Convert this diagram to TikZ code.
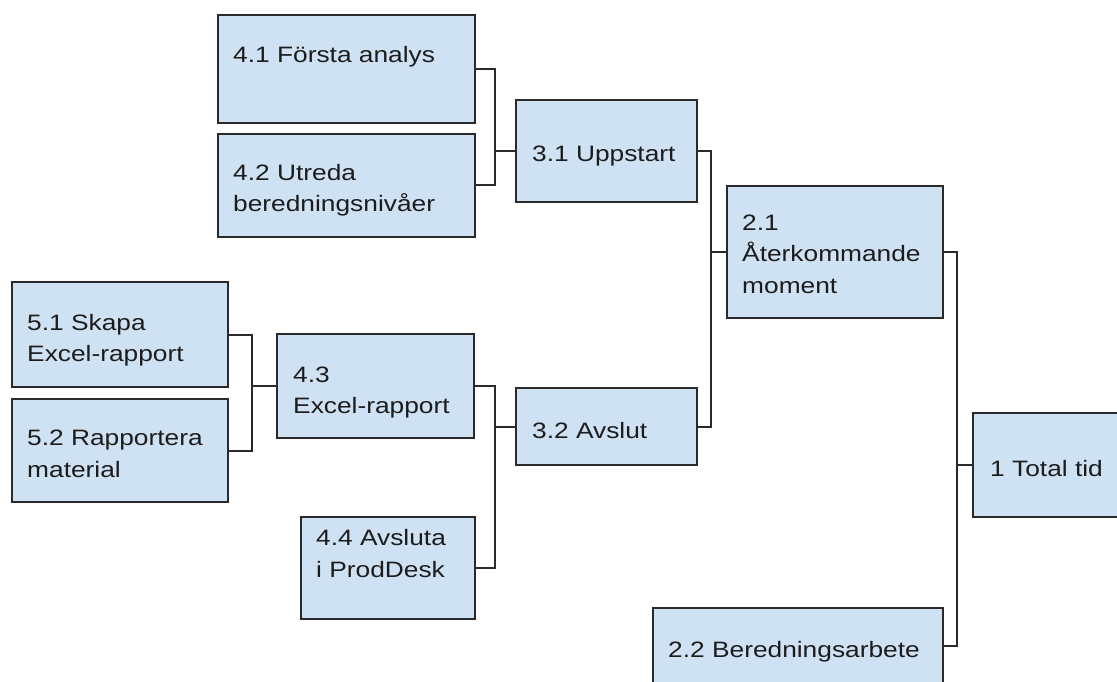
\documentclass[tikz,border=0pt]{standalone}
\usepackage{fontspec}
\usetikzlibrary{calc}
\setmainfont{Liberation Sans}[FakeStretch=1.18]
\definecolor{boxfill}{HTML}{CFE2F3}
\definecolor{boxline}{HTML}{2A2A2A}
\definecolor{txt}{HTML}{1C1C1C}
\newcommand{\twol}[2]{\vtop{\baselineskip=31.5pt\hbox{#1}\hbox{#2}}}
\newcommand{\threel}[3]{\vtop{\baselineskip=31.5pt\hbox{#1}\hbox{#2}\hbox{#3}}}
\tikzset{
  wbox/.style={draw=boxline, fill=boxfill, line width=2pt, inner sep=0pt},
  lbl/.style={anchor=base west, inner sep=0pt, text=txt, font=\fontsize{22.3}{26}\selectfont},
  conn/.style={draw=boxline, line width=2pt}
}
\begin{document}
\begin{tikzpicture}[x=1pt,y=-1pt]
\clip (0,0) rectangle (1117,682);
\fill[white] (0,0) rectangle (1117,682);
% boxes
\node[wbox, minimum width=257pt, minimum height=108pt] (b41) at (346.5,69) {};
\node[wbox, minimum width=257pt, minimum height=103pt] (b42) at (346.5,185.5) {};
\node[wbox, minimum width=181pt, minimum height=102pt] (b31) at (606.5,151) {};
\node[wbox, minimum width=216pt, minimum height=132pt] (b21) at (835,252) {};
\node[wbox, minimum width=216pt, minimum height=105pt] (b51) at (120,334.5) {};
\node[wbox, minimum width=216pt, minimum height=103pt] (b52) at (120,450.5) {};
\node[wbox, minimum width=197pt, minimum height=104pt] (b43) at (375.5,386) {};
\node[wbox, minimum width=181pt, minimum height=77pt] (b32) at (606.5,426.5) {};
\node[wbox, minimum width=174pt, minimum height=102pt] (b44) at (388,568) {};
\node[wbox, minimum width=200pt, minimum height=104pt] (b1) at (1073,465) {};
\node[wbox, minimum width=290pt, minimum height=76pt] (b22) at (798,646) {};
% labels
\node[lbl] (t41) at (233,63) {4.1 Första analys};
\node[lbl] (t42) at (233,180.5) {\twol{4.2 Utreda}{beredningsnivåer}};
\node[lbl] (t31) at (532,162) {3.1 Uppstart};
\node[lbl] (t21) at (742,230) {\threel{2.1}{Återkommande}{moment}};
\node[lbl] (t51) at (27,330) {\twol{5.1 Skapa}{Excel-rapport}};
\node[lbl] (t52) at (27,445.5) {\twol{5.2 Rapportera}{material}};
\node[lbl] (t43) at (293,382) {\twol{4.3}{Excel-rapport}};
\node[lbl] (t32) at (532,438) {3.2 Avslut};
\node[lbl] (t44) at (316,545.5) {\twol{4.4 Avsluta}{i ProdDesk}};
\node[lbl] (t1) at (990,476) {1 Total tid};
\node[lbl] (t22) at (668,657) {2.2 Beredningsarbete};
% bus coordinates
\coordinate (bus31) at ($(b31.west)+(-20.5,0)$);
\coordinate (bus21) at ($(b21.west)+(-15,0)$);
\coordinate (bus1) at ($(b1.west)+(-15,0)$);
\coordinate (bus43) at ($(b43.west)+(-24.5,0)$);
\coordinate (bus32) at ($(b32.west)+(-20.5,0)$);
% connectors
\draw[conn] (b41.east) -| (bus31) |- (b42.east);
\draw[conn] (bus31) -- (b31.west);
\draw[conn] (b31.east) -| (bus21) |- (b32.east);
\draw[conn] (bus21) -- (b21.west);
\draw[conn] (b21.east) -| (bus1) |- (b22.east);
\draw[conn] (bus1) -- (b1.west);
\draw[conn] (b51.east) -| (bus43) |- (b52.east);
\draw[conn] (bus43) -- (b43.west);
\draw[conn] (b43.east) -| (bus32) |- (b44.east);
\draw[conn] (bus32) -- (b32.west);
\end{tikzpicture}
\end{document}
